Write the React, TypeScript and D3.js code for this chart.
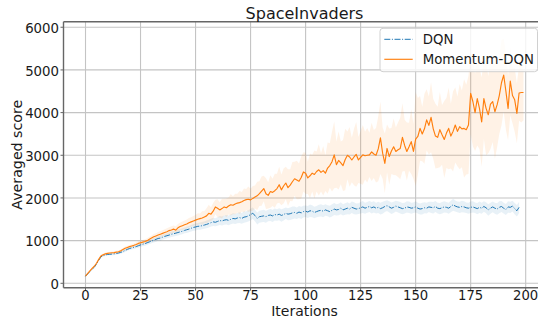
import { useEffect, useRef } from 'react'
import * as d3 from 'd3'

const xTicks = [0, 25, 50, 75, 100, 125, 150, 175, 200]
const yTicks = [0, 1000, 2000, 3000, 4000, 5000, 6000]
const seriesNames = ['DQN', 'Momentum-DQN']

// DQN mean score per iteration (0..197)
const dqnMean = [
  165, 220, 280, 330, 380, 450, 540, 620, 650, 665,
  675, 680, 685, 690, 700, 710, 725, 745, 770, 795,
  815, 830, 845, 860, 880, 900, 915, 930, 950, 970,
  990, 1010, 1030, 1050, 1060, 1080, 1100, 1115, 1130, 1150,
  1160, 1175, 1190, 1205, 1220, 1240, 1255, 1270, 1290, 1310,
  1320, 1335, 1340, 1350, 1365, 1380, 1400, 1420, 1440, 1430,
  1450, 1470, 1460, 1480, 1490, 1475, 1500, 1520, 1510, 1530,
  1540, 1520, 1550, 1560, 1580, 1610, 1640, 1590, 1520, 1560,
  1570, 1580, 1560, 1590, 1600, 1580, 1610, 1600, 1620, 1590,
  1610, 1640, 1620, 1630, 1650, 1660, 1640, 1670, 1650, 1680,
  1690, 1670, 1700, 1690, 1660, 1680, 1700, 1710, 1690, 1720,
  1700, 1680, 1710, 1740, 1720, 1730, 1760, 1720, 1740, 1760,
  1740, 1780, 1760, 1740, 1750, 1770, 1790, 1760, 1780, 1800,
  1770, 1790, 1760, 1780, 1750, 1770, 1800, 1820, 1790, 1760,
  1780, 1810, 1790, 1770, 1750, 1760, 1790, 1780, 1760, 1770,
  1790, 1760, 1740, 1750, 1770, 1760, 1790, 1780, 1770, 1800,
  1760, 1750, 1770, 1790, 1780, 1760, 1800, 1840, 1810, 1790,
  1780, 1800, 1790, 1770, 1760, 1780, 1790, 1770, 1750, 1780,
  1760, 1800, 1770, 1720, 1760, 1790, 1760, 1740, 1780, 1800,
  1760, 1730, 1790, 1780, 1810, 1750, 1700, 1780,
]

const dqnStd = [
  10, 15, 20, 20, 25, 25, 25, 25, 25, 25,
  25, 25, 25, 30, 30, 30, 30, 35, 35, 35,
  35, 40, 40, 40, 45, 45, 45, 50, 50, 50,
  50, 55, 55, 55, 60, 60, 60, 60, 65, 65,
  65, 65, 70, 70, 70, 70, 75, 75, 75, 80,
  80, 80, 85, 85, 85, 90, 90, 90, 95, 95,
  100, 105, 105, 110, 110, 115, 115, 120, 120, 120,
  125, 125, 130, 130, 130, 135, 135, 135, 140, 140,
  140, 145, 140, 135, 140, 145, 140, 135, 140, 145,
  140, 135, 140, 145, 150, 140, 135, 140, 145, 140,
  135, 140, 145, 140, 135, 130, 140, 145, 140, 135,
  130, 140, 145, 140, 130, 135, 140, 130, 135, 140,
  130, 135, 140, 130, 125, 135, 140, 130, 125, 130,
  135, 130, 125, 130, 135, 140, 130, 125, 130, 135,
  130, 125, 130, 135, 130, 125, 130, 135, 130, 125,
  130, 125, 130, 135, 130, 125, 120, 130, 135, 130,
  125, 130, 135, 130, 125, 130, 135, 140, 130, 125,
  130, 135, 130, 125, 130, 135, 130, 125, 130, 135,
  130, 125, 130, 135, 130, 125, 130, 135, 140, 130,
  125, 130, 135, 130, 125, 130, 135, 130,
]

// Momentum-DQN mean score per iteration (0..199)
const momMean = [
  170, 230, 290, 350, 400, 470, 560, 640, 670, 690,
  700, 710, 715, 720, 730, 740, 760, 790, 820, 840,
  860, 875, 890, 910, 935, 950, 965, 980, 1000, 1030,
  1060, 1090, 1110, 1130, 1150, 1170, 1190, 1210, 1235, 1250,
  1270, 1245, 1300, 1330, 1350, 1370, 1390, 1420, 1440, 1460,
  1480, 1500, 1515, 1530, 1555, 1580, 1640, 1620, 1690, 1790,
  1760, 1720, 1750, 1790, 1770, 1810, 1840, 1830, 1860, 1880,
  1890, 1910, 1940, 1960, 1970, 1955, 1990, 2020, 2050, 2100,
  2160, 2220, 2100, 2060, 2150, 2130, 2170, 2220, 2310, 2190,
  2280, 2350, 2240, 2300, 2380, 2450, 2420, 2390, 2480, 2610,
  2580, 2470, 2520, 2580, 2550, 2620, 2660, 2600, 2640, 2580,
  2700, 2760, 2850, 3010, 2780, 2880, 2820, 2760, 2900, 3000,
  2960, 2890, 2960, 3020, 2890, 2950, 3010, 2990, 3000, 3010,
  3080, 3030, 3000, 3150, 3410, 3050, 2810, 3160, 2970, 3100,
  3200, 3090, 3130, 3160, 3420, 3230, 3090, 3200, 3320, 3090,
  3380, 3440, 3630, 3500, 3620, 3830, 3700, 3890, 3620, 3450,
  3420, 3600, 3480, 3370, 3520, 3630, 3450, 3560, 3710, 3560,
  3670, 3620, 3630, 3600, 3710, 4450, 4260, 4000, 4330, 4100,
  3780, 4330, 4100, 3950, 4200, 4260, 4020, 4180, 4400, 4700,
  4880, 4500, 4100, 4740, 4400, 4300, 3980, 4460, 4470, 4470,
]

const momStd = [
  10, 15, 20, 25, 25, 30, 30, 30, 30, 30,
  30, 30, 30, 30, 30, 35, 35, 35, 40, 40,
  40, 40, 45, 45, 50, 50, 50, 55, 55, 60,
  60, 65, 65, 70, 70, 75, 75, 80, 80, 85,
  85, 90, 90, 95, 100, 100, 105, 110, 110, 115,
  120, 140, 120, 160, 140, 180, 200, 160, 190, 170,
  210, 180, 230, 190, 220, 200, 250, 210, 240, 220,
  270, 230, 280, 250, 300, 260, 290, 270, 330, 290,
  340, 300, 360, 310, 380, 320, 400, 350, 420, 360,
  410, 380, 430, 370, 460, 400, 450, 420, 490, 460,
  480, 380, 520, 430, 560, 470, 600, 450, 580, 420,
  600, 520, 700, 780, 540, 680, 500, 600, 720, 560,
  700, 520, 660, 760, 540, 620, 700, 560, 640, 520,
  680, 560, 640, 760, 850, 600, 700, 560, 660, 540,
  660, 560, 640, 720, 800, 600, 680, 560, 760, 640,
  1100, 900, 760, 640, 820, 720, 680, 820, 700, 760,
  720, 880, 700, 900, 820, 960, 760, 940, 880, 820,
  1000, 900, 1150, 1050, 1150, 950, 1050, 900, 1100, 950,
  1050, 950, 1100, 900, 1050, 950, 1100, 1000, 900, 1000,
  850, 900, 750, 800, 650, 750, 700, 650, 700, 650,
]

export default function App() {
  const svgRef = useRef<SVGSVGElement>(null)

  useEffect(() => {
    if (!svgRef.current) return
    const svg = d3.select(svgRef.current)
    svg.selectAll('*').remove()

    const left = 63.5
    const right = 545.5
    const top = 21.7
    const bottom = 287.7
    const font = "'DejaVu Sans', sans-serif"
    const textColor = '#1a1a1a'
    const spineColor = '#666666'

    const x = d3.scaleLinear().domain([-10, 209]).range([left, right])
    const y = d3.scaleLinear().domain([-103, 6130]).range([bottom, top])

    svg.append('rect').attr('width', 538).attr('height', 318).attr('fill', '#ffffff')

    svg.append('defs')
      .append('clipPath')
      .attr('id', 'plot-clip')
      .append('rect')
      .attr('x', left)
      .attr('y', top)
      .attr('width', right - left)
      .attr('height', bottom - top)

    // grid
    const grid = svg.append('g')
    grid.selectAll('.vgrid')
      .data(xTicks)
      .enter()
      .append('line')
      .attr('x1', d => x(d))
      .attr('x2', d => x(d))
      .attr('y1', top)
      .attr('y2', bottom)
      .attr('stroke', '#c4c4c4')
      .attr('stroke-width', 1.1)
    grid.selectAll('.hgrid')
      .data(yTicks)
      .enter()
      .append('line')
      .attr('x1', left)
      .attr('x2', right)
      .attr('y1', d => y(d))
      .attr('y2', d => y(d))
      .attr('stroke', '#c4c4c4')
      .attr('stroke-width', 1.1)

    const series = [
      { mean: dqnMean, std: dqnStd, color: '#1f77b4', dash: '6,1.6,1,1.6', width: 1 },
      { mean: momMean, std: momStd, color: '#ff7f0e', dash: null, width: 1.15 },
    ]

    const plot = svg.append('g').attr('clip-path', 'url(#plot-clip)')

    series.forEach(s => {
      const band = d3.area<number>()
        .x((_, i) => x(i))
        .y0((d, i) => y(d - s.std[i]))
        .y1((d, i) => y(d + s.std[i]))
      plot.append('path')
        .attr('d', band(s.mean))
        .attr('fill', s.color)
        .attr('fill-opacity', 0.1)
    })

    series.forEach(s => {
      const line = d3.line<number>()
        .x((_, i) => x(i))
        .y(d => y(d))
      const p = plot.append('path')
        .attr('d', line(s.mean))
        .attr('fill', 'none')
        .attr('stroke', s.color)
        .attr('stroke-width', s.width)
        .attr('stroke-linejoin', 'round')
      if (s.dash) p.attr('stroke-dasharray', s.dash)
    })

    // spines
    svg.append('line')
      .attr('x1', left).attr('x2', left).attr('y1', top).attr('y2', bottom)
      .attr('stroke', spineColor).attr('stroke-width', 1.4)
    svg.append('line')
      .attr('x1', left).attr('x2', right).attr('y1', bottom).attr('y2', bottom)
      .attr('stroke', spineColor).attr('stroke-width', 1.4)
    svg.append('line')
      .attr('x1', left).attr('x2', right).attr('y1', top).attr('y2', top)
      .attr('stroke', spineColor).attr('stroke-width', 1.4)

    // y ticks
    const yAxis = svg.append('g')
    yTicks.forEach(t => {
      yAxis.append('line')
        .attr('x1', left - 3).attr('x2', left).attr('y1', y(t)).attr('y2', y(t))
        .attr('stroke', spineColor).attr('stroke-width', 1)
      yAxis.append('text')
        .attr('x', left - 4.5)
        .attr('y', y(t) + 5.6)
        .attr('text-anchor', 'end')
        .attr('font-family', font)
        .attr('font-size', '13.3px')
        .attr('fill', textColor)
        .text(t)
    })

    // x ticks
    const xAxis = svg.append('g')
    xTicks.forEach(t => {
      xAxis.append('line')
        .attr('x1', x(t)).attr('x2', x(t)).attr('y1', bottom).attr('y2', bottom + 3)
        .attr('stroke', spineColor).attr('stroke-width', 1)
      xAxis.append('text')
        .attr('x', x(t))
        .attr('y', 300.3)
        .attr('text-anchor', 'middle')
        .attr('font-family', font)
        .attr('font-size', '13.2px')
        .attr('fill', textColor)
        .text(t)
    })

    // labels and title
    const midX = (left + right) / 2
    svg.append('text')
      .attr('x', midX).attr('y', 316)
      .attr('text-anchor', 'middle')
      .attr('font-family', font).attr('font-size', '14px').attr('fill', textColor)
      .text('Iterations')
    svg.append('text')
      .attr('transform', `translate(22.3,${(top + bottom) / 2}) rotate(-90)`)
      .attr('text-anchor', 'middle')
      .attr('font-family', font).attr('font-size', '14.2px').attr('fill', textColor)
      .text('Averaged score')
    svg.append('text')
      .attr('x', midX).attr('y', 19.3)
      .attr('text-anchor', 'middle')
      .attr('font-family', font).attr('font-size', '16px').attr('fill', textColor)
      .text('SpaceInvaders')

    // legend
    const legend = svg.append('g')
    legend.append('rect')
      .attr('x', 380).attr('y', 28.3)
      .attr('width', 157.5).attr('height', 43.4)
      .attr('rx', 3)
      .attr('fill', '#ffffff').attr('fill-opacity', 0.8)
      .attr('stroke', '#d0d0d0').attr('stroke-width', 1)
    series.forEach((s, i) => {
      const ly = 39.3 + i * 20
      const l = legend.append('line')
        .attr('x1', 384.3).attr('x2', 412.7).attr('y1', ly).attr('y2', ly)
        .attr('stroke', s.color).attr('stroke-width', s.width)
      if (s.dash) l.attr('stroke-dasharray', s.dash)
      legend.append('text')
        .attr('x', 422.7).attr('y', ly + 4.9)
        .attr('font-family', font).attr('font-size', '13.3px').attr('fill', textColor)
        .text(seriesNames[i])
    })
  }, [])

  return (
    <svg
      ref={svgRef}
      width={538}
      height={318}
      style={{ position: 'absolute', left: 0, top: 0, overflow: 'hidden' }}
    />
  )
}
